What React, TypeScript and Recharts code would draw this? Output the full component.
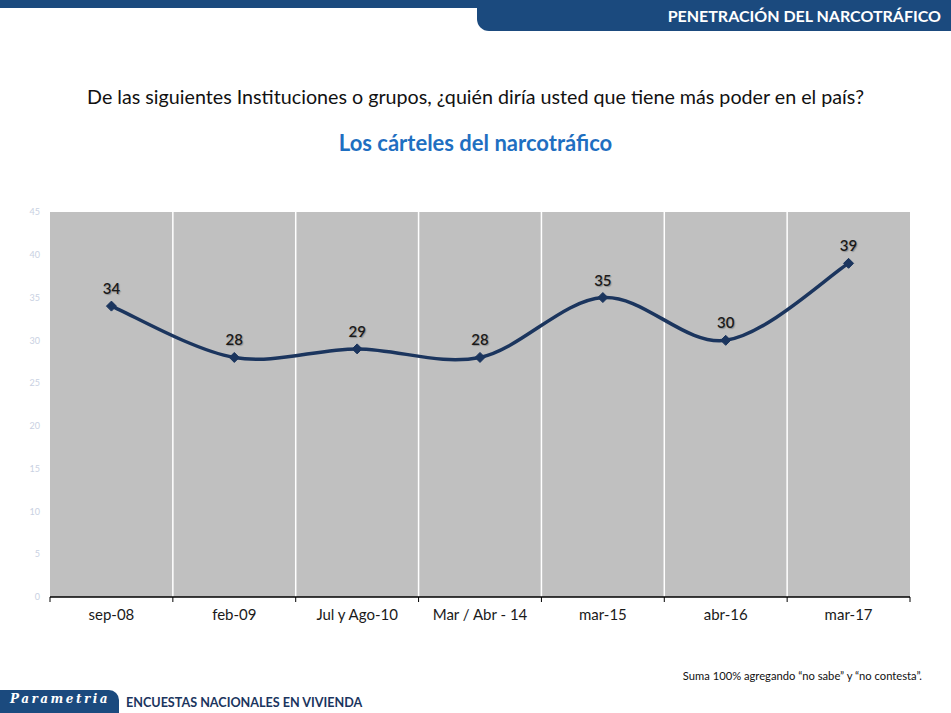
import React from 'react';
import { LineChart, Line, XAxis, YAxis, CartesianGrid } from 'recharts';

const periods = ['sep-08', 'feb-09', 'Jul y Ago-10', 'Mar / Abr - 14', 'mar-15', 'abr-16', 'mar-17'];
const carteles = [34, 28, 29, 28, 35, 30, 39];
const yTicks = [0, 5, 10, 15, 20, 25, 30, 35, 40, 45];

const data = periods.map((p, i) => ({ periodo: p, valor: carteles[i] }));

const NAVY = '#1b355e';
const FONT = 'Lato, "Open Sans", sans-serif';

const CHART_W = 951;
const CHART_H = 713;
const MARGIN = { top: 212, right: 41, bottom: 115, left: 20 };
const Y_W = 30;
const BAND = (CHART_W - MARGIN.left - MARGIN.right - Y_W) / periods.length;

// Excel-like smoothed line (Catmull-Rom through every point)
const excelCurve = (context: any) => {
  let pts: number[][] = [];
  return {
    areaStart() {},
    areaEnd() {},
    lineStart() {
      pts = [];
    },
    point(x: number, y: number) {
      pts.push([+x, +y]);
    },
    lineEnd() {
      if (!pts.length) return;
      context.moveTo(pts[0][0], pts[0][1]);
      for (let i = 0; i < pts.length - 1; i++) {
        const p0 = pts[i - 1] || pts[i];
        const p1 = pts[i];
        const p2 = pts[i + 1];
        const p3 = pts[i + 2] || p2;
        context.bezierCurveTo(
          p1[0] + (p2[0] - p0[0]) / 6,
          p1[1] + (p2[1] - p0[1]) / 6,
          p2[0] - (p3[0] - p1[0]) / 6,
          p2[1] - (p3[1] - p1[1]) / 6,
          p2[0],
          p2[1]
        );
      }
    },
  };
};

const Diamond = (props: any) => {
  const { cx, cy, index } = props;
  const s = 5;
  return (
    <path
      key={`d-${index}`}
      d={`M${cx},${cy - s}L${cx + s},${cy}L${cx},${cy + s}L${cx - s},${cy}Z`}
      fill={NAVY}
      stroke={NAVY}
      strokeWidth={1}
    />
  );
};

const ValueLabel = (props: any) => {
  const { x, y, value, index } = props;
  return (
    <text
      key={`l-${index}`}
      x={x}
      y={y - 12}
      textAnchor="middle"
      fontSize={15}
      fontWeight={600}
      fontFamily={FONT}
      fill="#1a1a1a"
      style={{ textShadow: '1px 1px 1px rgba(0,0,0,0.25)' }}
    >
      {value}
    </text>
  );
};

// category label plus tick marks at the band edges
const PeriodTick = (props: any) => {
  const { x, y, payload, index } = props;
  const left = x - BAND / 2;
  const right = x + BAND / 2;
  return (
    <g>
      <line x1={left} y1={y} x2={left} y2={y + 5} stroke="#000" strokeWidth={1} />
      {index === periods.length - 1 && (
        <line x1={right} y1={y} x2={right} y2={y + 5} stroke="#000" strokeWidth={1} />
      )}
      <text x={x} y={y + 12} dy="0.71em" textAnchor="middle" fontSize={15} fontFamily={FONT} fill="#1a1a1a">
        {payload.value}
      </text>
    </g>
  );
};

const bandEdges = ({ offset }: any) => {
  const xs: number[] = [];
  for (let i = 1; i < periods.length; i++) xs.push(offset.left + (i * offset.width) / periods.length);
  return xs;
};

export default function App() {
  return (
    <div
      style={{
        position: 'absolute',
        left: 0,
        top: 0,
        width: 951,
        height: 713,
        background: '#fff',
        overflow: 'hidden',
        fontFamily: FONT,
      }}
    >
      {/* header */}
      <div style={{ position: 'absolute', left: 0, top: 0, width: 951, height: 8, background: '#1b4a7e' }} />
      <div
        style={{
          position: 'absolute',
          left: 477,
          top: 0,
          width: 474,
          height: 31,
          background: '#1b4a7e',
          borderBottomLeftRadius: 12,
        }}
      />
      <div
        style={{
          position: 'absolute',
          right: 10,
          top: 6,
          color: '#fff',
          fontWeight: 700,
          fontSize: 16,
        }}
      >
        PENETRACIÓN DEL NARCOTRÁFICO
      </div>

      <div
        style={{
          position: 'absolute',
          left: 0,
          width: 951,
          top: 85,
          textAlign: 'center',
          fontSize: 19.7,
          color: '#111',
        }}
      >
        De las siguientes Instituciones o grupos, ¿quién diría usted que tiene más poder en el país?
      </div>
      <div
        style={{
          position: 'absolute',
          left: 0,
          width: 951,
          top: 129,
          textAlign: 'center',
          fontSize: 22,
          fontWeight: 700,
          color: '#1f6fc1',
        }}
      >
        Los cárteles del narcotráfico
      </div>

      <div style={{ position: 'absolute', left: 0, top: 0 }}>
        <LineChart width={CHART_W} height={CHART_H} data={data} margin={MARGIN}>
          <CartesianGrid
            horizontal={false}
            verticalCoordinatesGenerator={bandEdges}
            stroke="#ffffff"
            strokeWidth={1.5}
            fill="#c0c0c0"
            fillOpacity={1}
          />
          <XAxis
            dataKey="periodo"
            scale="band"
            height={1}
            axisLine={{ stroke: '#000', strokeWidth: 1.5 }}
            tickLine={false}
            tickSize={0}
            tickMargin={0}
            interval={0}
            tick={PeriodTick}
          />
          <YAxis
            domain={[0, 45]}
            ticks={yTicks}
            width={Y_W}
            axisLine={false}
            tickLine={false}
            tickMargin={4}
            tick={{ fontSize: 9, fill: '#c9d1e2', fontFamily: FONT }}
          />
          <Line
            dataKey="valor"
            type={excelCurve as any}
            stroke={NAVY}
            strokeWidth={3.5}
            dot={Diamond}
            activeDot={false}
            label={ValueLabel}
            isAnimationActive={false}
          />
        </LineChart>
      </div>

      <div
        style={{
          position: 'absolute',
          right: 29,
          top: 669,
          fontSize: 11.2,
          color: '#111',
        }}
      >
        Suma 100% agregando “no sabe” y “no contesta”.
      </div>

      {/* footer */}
      <div
        style={{
          position: 'absolute',
          left: 0,
          top: 690,
          width: 119,
          height: 23,
          background: '#1b4a7e',
          borderTopRightRadius: 10,
        }}
      />
      <div
        style={{
          position: 'absolute',
          left: 10,
          top: 692,
          color: '#fff',
          fontFamily: '"DejaVu Serif", serif',
          fontStyle: 'italic',
          fontWeight: 700,
          fontSize: 12,
          letterSpacing: 2.5,
        }}
      >
        Parametria
      </div>
      <div
        style={{
          position: 'absolute',
          left: 126,
          top: 695,
          color: NAVY,
          fontWeight: 700,
          fontSize: 12.6,
        }}
      >
        ENCUESTAS NACIONALES EN VIVIENDA
      </div>
    </div>
  );
}
